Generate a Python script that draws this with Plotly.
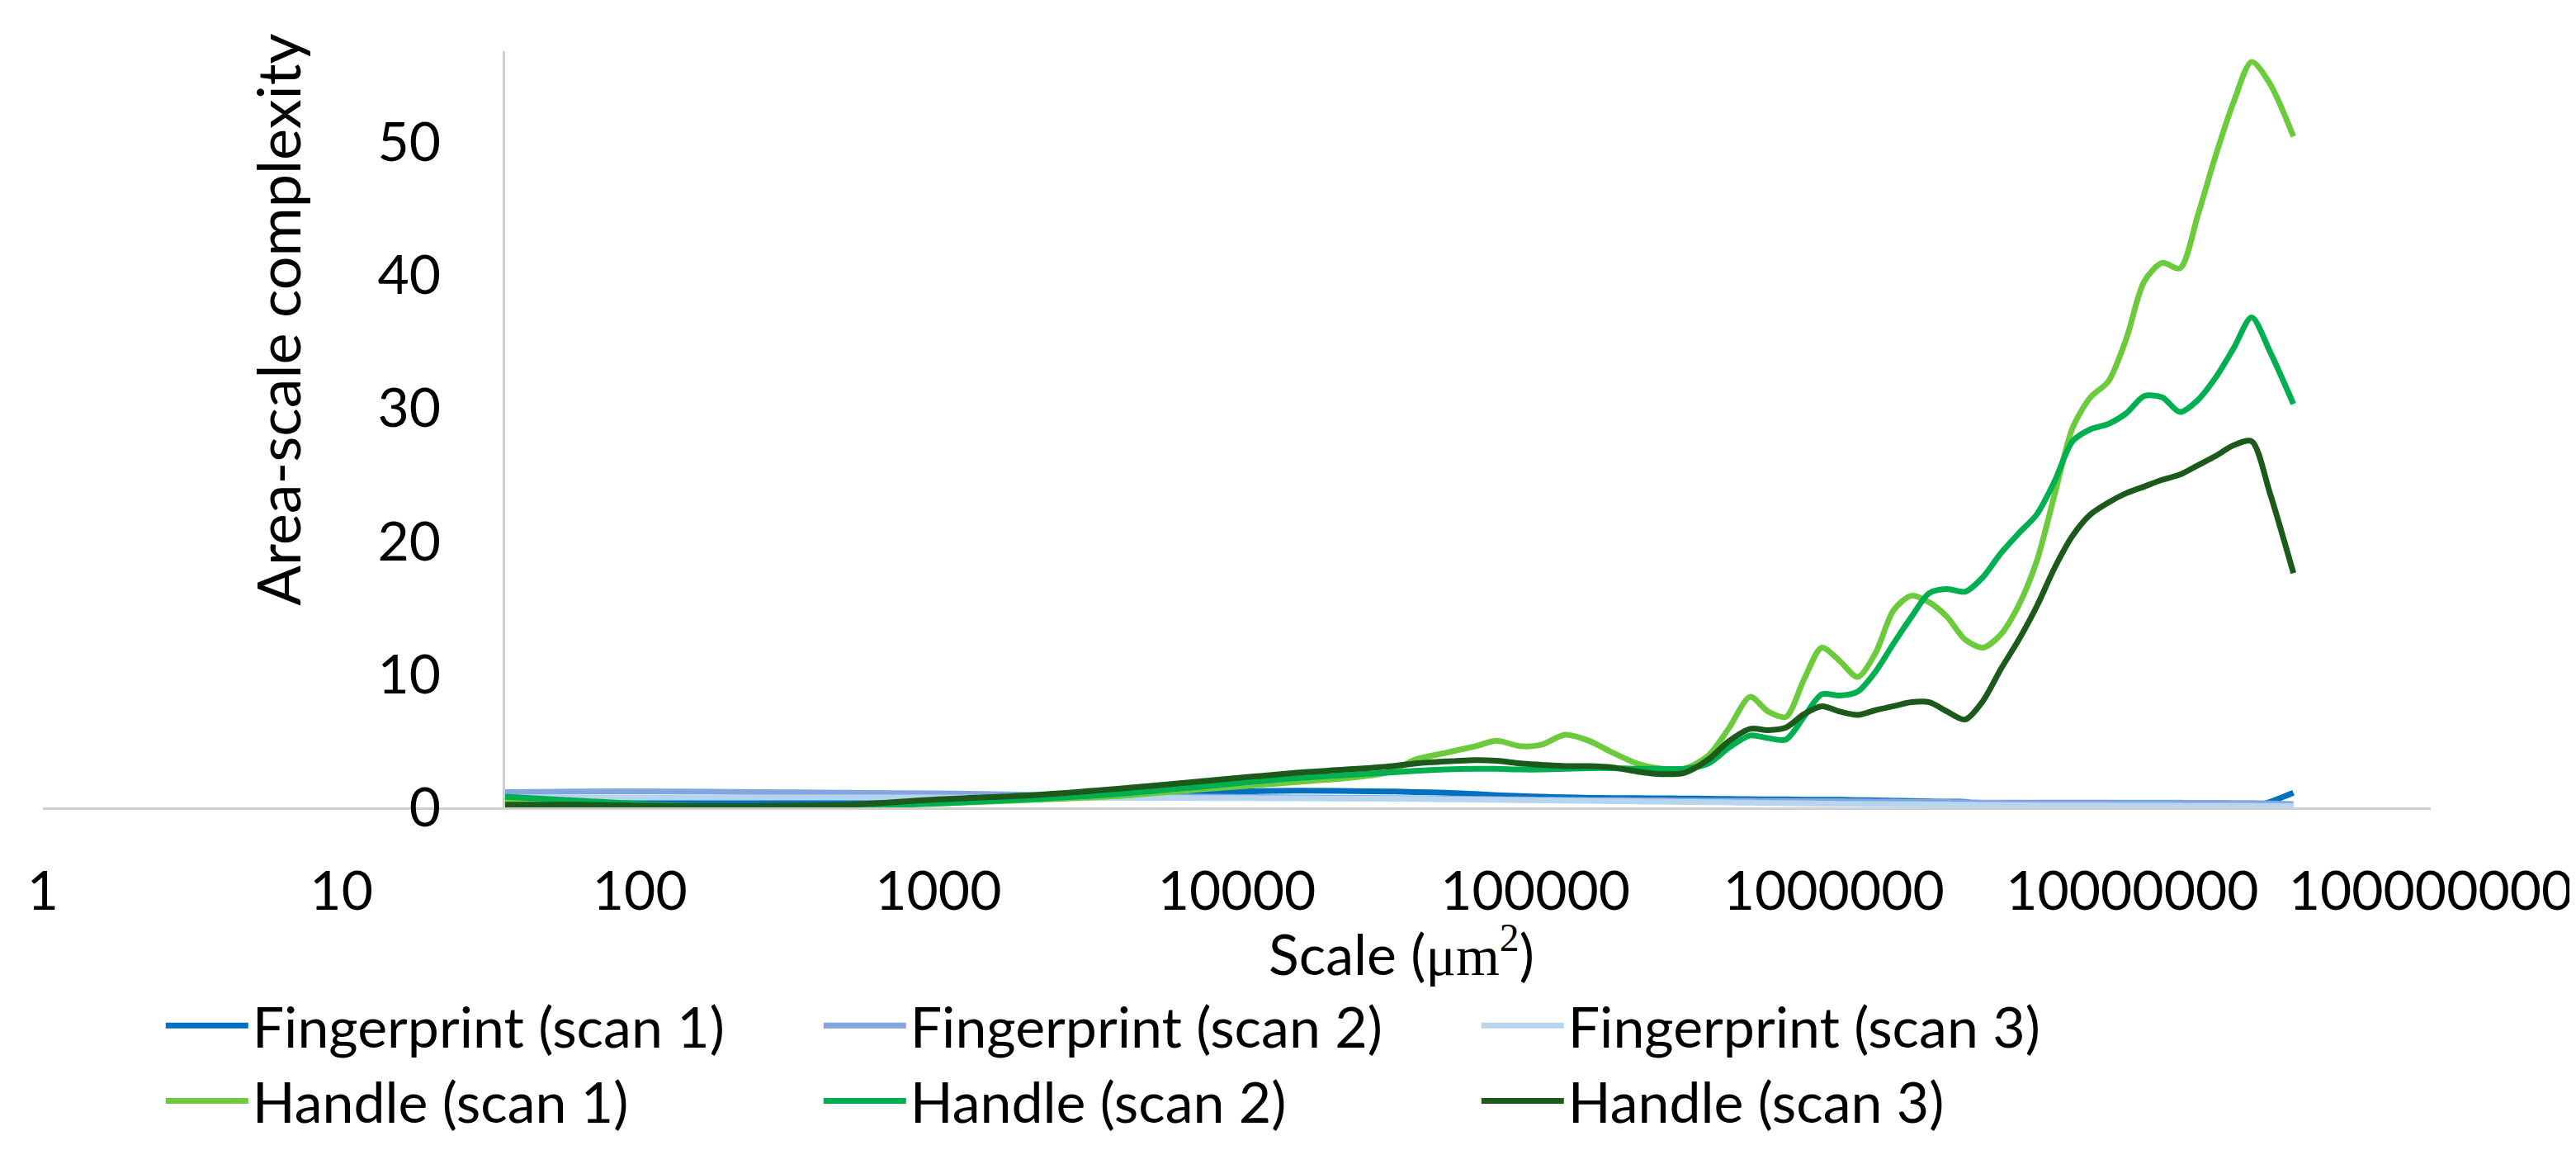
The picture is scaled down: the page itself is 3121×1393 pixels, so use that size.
import plotly.graph_objects as go

# Scale (um^2) sample positions shared by all series
scale_um2 = [35, 63, 126, 251, 501, 1000, 1995, 3981, 7943, 15849,
             31623, 39811, 50119, 63096, 74131, 89125, 104713, 125893, 151356, 181970,
             218776, 263027, 316228, 380189, 446684, 524807, 602560, 691831, 794328, 912011,
             1047129, 1202264, 1380384, 1584893, 1819701, 2089296, 2398833, 2754229, 3162278, 3630781,
             4168694, 4786301, 5495409, 6309573, 7244360, 8317638, 9549926, 10964782, 12589254, 14454398,
             16595869, 19054607, 21877616, 25118864, 28840315, 34673685]

fingerprint_scan1 = [0.6, 0.5, 0.4, 0.35, 0.35, 0.45, 0.65, 0.9, 1.15, 1.25,
                     1.2, 1.15, 1.1, 1.0, 0.92, 0.85, 0.8, 0.76, 0.72, 0.7,
                     0.69, 0.68, 0.67, 0.65, 0.63, 0.62, 0.6, 0.6, 0.58, 0.58,
                     0.57, 0.55, 0.52, 0.5, 0.48, 0.45, 0.43, 0.42, 0.15, 0.02,
                     0.02, 0.02, 0.02, 0.02, 0.02, 0.02, 0.02, 0.02, 0.02, 0.02,
                     0.02, 0.02, 0.02, 0.05, 0.4, 1.1]

fingerprint_scan2 = [1.15, 1.2, 1.2, 1.15, 1.1, 1.05, 0.95, 0.85, 0.8, 0.75,
                     0.7, 0.68, 0.66, 0.64, 0.62, 0.6, 0.58, 0.56, 0.55, 0.54,
                     0.53, 0.52, 0.51, 0.5, 0.5, 0.49, 0.48, 0.48, 0.47, 0.47,
                     0.46, 0.45, 0.44, 0.43, 0.42, 0.41, 0.4, 0.38, 0.36, 0.35,
                     0.35, 0.35, 0.35, 0.35, 0.35, 0.35, 0.35, 0.35, 0.35, 0.35,
                     0.34, 0.34, 0.33, 0.32, 0.3, 0.25]

fingerprint_scan3 = [0.75, 0.75, 0.75, 0.75, 0.75, 0.74, 0.73, 0.72, 0.7, 0.68,
                     0.65, 0.63, 0.61, 0.59, 0.57, 0.55, 0.53, 0.51, 0.49, 0.47,
                     0.45, 0.43, 0.41, 0.39, 0.37, 0.35, 0.33, 0.31, 0.3, 0.28,
                     0.27, 0.26, 0.25, 0.24, 0.23, 0.22, 0.21, 0.2, 0.19, 0.18,
                     0.17, 0.16, 0.16, 0.15, 0.15, 0.15, 0.14, 0.14, 0.14, 0.13,
                     0.13, 0.12, 0.12, 0.12, 0.11, 0.1]

handle_scan1 = [0.5, 0.3, 0.1, 0.05, 0.1, 0.3, 0.55, 0.85, 1.4, 1.9,
                2.6, 3.6, 4.1, 4.6, 5.0, 4.6, 4.7, 5.45, 5.0, 4.1,
                3.3, 2.9, 2.9, 3.9, 6.0, 8.3, 7.2, 6.8, 9.6, 12.0,
                11.0, 9.8, 11.6, 14.8, 15.9, 15.4, 14.3, 12.6, 12.0, 13.0,
                15.2, 18.5, 23.5, 28.5, 30.8, 32.0, 35.2, 39.5, 40.9, 40.5,
                44.5, 49.0, 53.0, 56.0, 54.4, 50.4]

handle_scan2 = [0.8, 0.5, 0.15, 0.0, 0.05, 0.3, 0.6, 1.0, 1.6, 2.2,
                2.6, 2.75, 2.85, 2.9, 2.9, 2.85, 2.85, 2.9, 2.95, 2.95,
                2.9, 2.9, 2.9, 3.3, 4.5, 5.4, 5.2, 5.1, 6.8, 8.5,
                8.4, 8.7, 10.2, 12.3, 14.3, 16.1, 16.4, 16.2, 17.3, 19.1,
                20.6, 22.0, 24.5, 27.5, 28.4, 28.8, 29.6, 30.9, 30.8, 29.7,
                30.6, 32.3, 34.5, 36.8, 34.3, 30.3]

handle_scan3 = [0.2, 0.2, 0.1, 0.1, 0.2, 0.6, 0.9, 1.4, 2.0, 2.6,
                3.05, 3.3, 3.45, 3.55, 3.5, 3.3, 3.2, 3.1, 3.1, 3.0,
                2.7, 2.5, 2.6, 3.6, 5.0, 5.9, 5.8, 6.0, 7.0, 7.6,
                7.2, 6.95, 7.3, 7.6, 7.9, 7.9, 7.2, 6.6, 8.0, 10.4,
                12.6, 15.1, 18.0, 20.4, 22.0, 22.9, 23.6, 24.1, 24.6, 25.0,
                25.7, 26.4, 27.2, 27.5, 23.7, 17.6]

series_names = ["Fingerprint (scan 1)", "Fingerprint (scan 2)", "Fingerprint (scan 3)",
                "Handle (scan 1)", "Handle (scan 2)", "Handle (scan 3)"]
series_values = [fingerprint_scan1, fingerprint_scan2, fingerprint_scan3,
                 handle_scan1, handle_scan2, handle_scan3]
series_colors = ["#0070C0", "#84A6DE", "#B7D5EF", "#6CCB3C", "#00B050", "#1B5A1B"]

x_tickvals = [1, 10, 100, 1000, 10000, 100000, 1000000, 10000000, 100000000]
x_ticktext = ["1", "10", "100", "1000", "10000", "100000", "1000000", "10000000", "100000000"]
y_tickvals = [0, 10, 20, 30, 40, 50]

FONT = "Lato, Carlito, Calibri, sans-serif"

W, H = 3121, 1393
L, R, T, B = 44, 181, 54, 423

fig = go.Figure()
for name, vals, col in zip(series_names, series_values, series_colors):
    fig.add_trace(go.Scatter(x=scale_um2, y=vals, name=name, mode="lines",
                             line=dict(color=col, width=7, shape="spline", smoothing=0.8)))

yaxis_pos = 0.193

fig.update_layout(
    width=W, height=H,
    margin=dict(l=L, r=R, t=T, b=B, pad=0),
    paper_bgcolor="white", plot_bgcolor="white",
    font=dict(family=FONT, size=66, color="black"),
    showlegend=True,
    legend=dict(orientation="h", x=0.0497, xanchor="left", y=-0.233, yanchor="top",
                entrywidth=682, entrywidthmode="pixels", font=dict(size=68),
                itemwidth=100, traceorder="normal", bgcolor="rgba(0,0,0,0)"),
    xaxis=dict(type="log", range=[0, 8], tickvals=x_tickvals, ticktext=x_ticktext,
               showgrid=False, zeroline=False, showline=True, linecolor="#CFCFCF", linewidth=3,
               ticks="", ticklabelstandoff=42, tickfont=dict(size=66)),
    yaxis=dict(range=[0, 56.8], tickvals=y_tickvals, showgrid=False, zeroline=False,
               showline=True, linecolor="#CFCFCF", linewidth=3, ticks="",
               anchor="free", position=yaxis_pos, ticklabelstandoff=62, tickfont=dict(size=66)),
)

fig.add_annotation(text="Area-scale complexity", xref="paper", yref="paper",
                   x=(328 - L) / (W - L - R), y=(970 - 379) / (H - T - B),
                   textangle=-90, showarrow=False, xanchor="center", yanchor="middle",
                   font=dict(size=72))
fig.add_annotation(text="Scale (<span style='font-family:Liberation Serif, Times New Roman, serif'>μm<sup>2</sup></span>)",
                   xref="paper", yref="paper",
                   x=(1692 - L) / (W - L - R), y=(970 - 1145) / (H - T - B),
                   showarrow=False, xanchor="center", yanchor="middle", font=dict(size=68))

fig.write_html("out.html")
